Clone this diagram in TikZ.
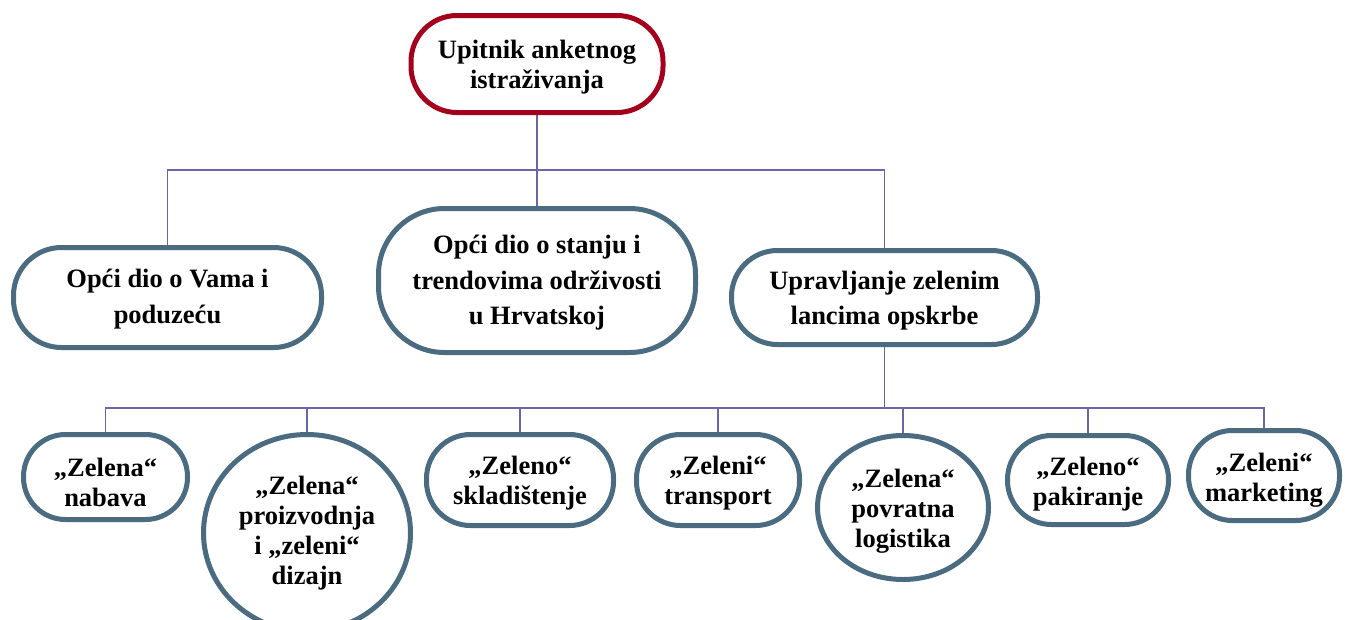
\documentclass[tikz,border=0pt]{standalone}
\usepackage{fontspec}
\setmainfont{Liberation Serif}
\usetikzlibrary{shapes.geometric,backgrounds}
\definecolor{boxblue}{HTML}{4B6B80}
\definecolor{boxred}{HTML}{A3001E}
\definecolor{linkc}{HTML}{6C66A6}
\begin{document}
\begin{tikzpicture}[x=1pt,y=-1pt,
  txt/.style={font=\fontsize{26.5}{30}\selectfont\bfseries, align=center, inner sep=0pt},
  wide/.style={font=\fontsize{26.5}{35.5}\selectfont\bfseries},
  pill/.style={draw=boxblue, line width=5pt, fill=white, rectangle, rounded corners=#1, inner sep=0pt},
  pill/.default=40pt,
  oval/.style={draw=boxblue, line width=5pt, fill=white, ellipse, inner sep=0pt},
  link/.style={draw=linkc, line width=1.8pt}]
\useasboundingbox (0,0) rectangle (1346,619);

% shapes
\node[pill=46pt, draw=boxred, minimum width=252pt, minimum height=97pt] (top) at (537,64) {};
\node[pill=48pt, minimum width=308pt, minimum height=100pt] (m1) at (167.5,297.5) {};
\node[pill=66pt, minimum width=317pt, minimum height=144pt] (m2) at (537,280.5) {};
\node[pill=46pt, minimum width=306pt, minimum height=94pt] (m3) at (884.5,297.5) {};
\node[pill=42pt, minimum width=164pt, minimum height=85pt] (b1) at (105.5,477) {};
\node[oval, minimum width=207pt, minimum height=197pt] (b2) at (307,533) {};
\node[pill=44pt, minimum width=187pt, minimum height=91pt] (b3) at (520,480) {};
\node[pill=44pt, minimum width=163pt, minimum height=91pt] (b4) at (718,480) {};
\node[oval, minimum width=171pt, minimum height=144pt] (b5) at (903,507.5) {};
\node[pill=44pt, minimum width=161pt, minimum height=89pt] (b6) at (1088,480) {};
\node[pill=44pt, minimum width=151pt, minimum height=90pt] (b7) at (1264,475.5) {};

% texts
\node[txt] (topt) at (537,67) {Upitnik anketnog\\istraživanja};
\node[txt, wide] (m1t) at (167.5,299) {Opći dio o Vama i\\poduzeću};
\node[txt, wide] (m2t) at (537,283) {Opći dio o stanju i\\trendovima održivosti\\u Hrvatskoj};
\node[txt, wide] (m3t) at (884.5,300.5) {Upravljanje zelenim\\lancima opskrbe};
\node[txt] (b1t) at (105.5,482) {„Zelena“\\nabava};
\node[txt] (b2t) at (307,533.5) {„Zelena“\\proizvodnja\\i „zeleni“\\dizajn};
\node[txt] (b3t) at (520,483.5) {„Zeleno“\\skladištenje};
\node[txt] (b4t) at (718,483.5) {„Zeleni“\\transport};
\node[txt] (b5t) at (903,511) {„Zelena“\\povratna\\logistika};
\node[txt] (b6t) at (1088,484) {„Zeleno“\\pakiranje};
\node[txt] (b7t) at (1264,480.5) {„Zeleni“\\marketing};

\coordinate (busA) at (0,170);
\coordinate (busB) at (0,408);

\begin{scope}[on background layer]
\draw[link] (top.south) -- (m2.north);
\draw[link] (m1.north) -- (m1.north |- busA) -- (m3.north |- busA) -- (m3.north);
\draw[link] (m3.south) -- (m3.south |- busB);
\draw[link] (b1.north) -- (b1.north |- busB) -- (b7.north |- busB) -- (b7.north);
\draw[link] (b2.north) -- (b2.north |- busB);
\draw[link] (b3.north) -- (b3.north |- busB);
\draw[link] (b4.north) -- (b4.north |- busB);
\draw[link] (b5.north) -- (b5.north |- busB);
\draw[link] (b6.north) -- (b6.north |- busB);
\end{scope}
\end{tikzpicture}
\end{document}
